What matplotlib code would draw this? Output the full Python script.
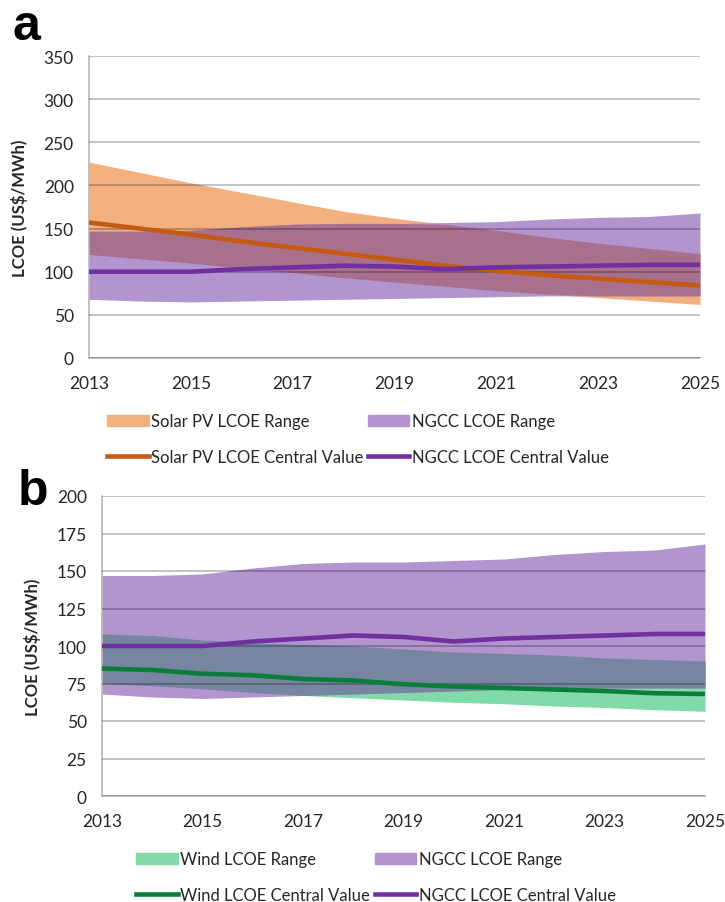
import matplotlib
matplotlib.use("Agg")
import matplotlib.pyplot as plt
import numpy as np
from matplotlib.patches import Patch
from matplotlib.lines import Line2D

plt.rcParams['font.family'] = ['Lato', 'DejaVu Sans']

# ---------------------- data
years = [2013, 2014, 2015, 2016, 2017, 2018, 2019, 2020, 2021, 2022, 2023, 2024, 2025]

solar_hi = [227, 215, 203, 192, 181, 170, 162, 155, 148, 140, 133, 127, 121]
solar_lo = [120, 115, 110, 104, 99, 93, 88, 83, 78, 74, 70, 66, 62]
solar_mid = [157, 150, 143, 135, 128, 121, 114, 107, 101, 96, 92, 88, 84]

ngcc_hi = [147, 147, 148, 152, 155, 156, 156, 157, 158, 161, 163, 164, 168]
ngcc_lo = [68, 66, 65, 66, 67, 68, 69, 70, 71, 72, 72, 72, 72]
ngcc_mid = [100, 100, 100, 103, 105, 107, 106, 103, 105, 106, 107, 108, 108]

wind_hi = [108, 107, 104, 102, 101, 100, 98, 96, 95, 94, 92, 91, 90]
wind_lo = [75, 73.5, 71.5, 69, 67, 65.5, 64, 62.5, 61.5, 60, 59, 57.5, 56.5]
wind_mid = [85, 84, 81.5, 80.5, 78, 77, 74.5, 73, 72, 71, 70, 68.5, 68]

# ---------------------- colours
c_solar_fill = '#F3B07F'
c_ngcc_fill = '#B294CE'
c_wind_fill = '#80DBA9'
c_solar_ngcc = '#A9708E'
c_wind_ngcc = '#7685A0'
c_solar = '#C55A11'
c_ngcc = '#7030A0'
c_wind = '#0A7D3B'
c_text = '#262626'
fs = 12.5


def style_axis(ax, ymax, ystep):
    ax.set_xlim(2013, 2025)
    ax.set_ylim(0, ymax)
    ax.set_xticks(range(2013, 2026, 2))
    ax.set_yticks(np.arange(0, ymax + 1, ystep))
    ax.grid(axis='y', color='k', alpha=0.3, lw=1.1)
    ax.grid(axis='x', visible=False)
    ax.set_axisbelow(False)
    for s in ['top', 'right']:
        ax.spines[s].set_visible(False)
    for s in ['left', 'bottom']:
        ax.spines[s].set_color('#B0B0B0')
        ax.spines[s].set_linewidth(1.1)
    ax.tick_params(length=0, labelsize=fs, colors=c_text)
    ax.tick_params(axis='x', pad=12)
    ax.tick_params(axis='y', pad=11)
    ax.set_ylabel(r'LCOE (US\$/MWh)', fontsize=12, fontweight='bold', color=c_text)


def range_pair(ax, lo1, hi1, c1, lo2, hi2, c2, c_both):
    ax.fill_between(years, lo1, hi1, color=c1, lw=0, zorder=1)
    ax.fill_between(years, lo2, hi2, color=c2, lw=0, zorder=1.1)
    lo = np.maximum(lo1, lo2)
    hi = np.minimum(hi1, hi2)
    ax.fill_between(years, lo, hi, where=hi > lo, interpolate=True,
                    color=c_both, lw=0, zorder=1.2)


fig = plt.figure(figsize=(7.25, 9.03), dpi=100)

# ---------------------- panel a
ax1 = fig.add_axes([89 / 725, 1 - 359 / 903, 611 / 725, 302 / 903])
range_pair(ax1, solar_lo, solar_hi, c_solar_fill, ngcc_lo, ngcc_hi, c_ngcc_fill, c_solar_ngcc)
ax1.plot(years, solar_mid, color=c_solar, lw=3.3, zorder=3, solid_capstyle='butt')
ax1.plot(years, ngcc_mid, color=c_ngcc, lw=3.3, zorder=3, solid_capstyle='butt')
style_axis(ax1, 350, 50)
ax1.yaxis.set_label_coords(-0.1, 0.5)

# ---------------------- panel b
ax2 = fig.add_axes([102 / 725, 1 - 797 / 903, 603 / 725, 300 / 903])
range_pair(ax2, wind_lo, wind_hi, c_wind_fill, ngcc_lo, ngcc_hi, c_ngcc_fill, c_wind_ngcc)
ax2.plot(years, ngcc_mid, color=c_ngcc, lw=3.3, zorder=3, solid_capstyle='butt')
ax2.plot(years, wind_mid, color=c_wind, lw=3.3, zorder=3, solid_capstyle='butt')
style_axis(ax2, 200, 25)
ax2.yaxis.set_label_coords(-0.101, 0.5)

# panel letters
fig.text(12 / 725, 1 - 40 / 903, 'a', fontsize=36, fontweight='bold',
         family='Liberation Sans', va='baseline', ha='left')
fig.text(18 / 725, 1 - 505 / 903, 'b', fontsize=36, fontweight='bold',
         family='Liberation Sans', va='baseline', ha='left')

# ---------------------- legends
leg_kw = dict(loc='center', ncol=2, frameon=False, fontsize=12,
              handlelength=2.5, handletextpad=0.15, columnspacing=0.25,
              labelspacing=1.15, labelcolor=c_text)

h1 = [Patch(color=c_solar_fill), Line2D([], [], color=c_solar, lw=3.3),
      Patch(color=c_ngcc_fill), Line2D([], [], color=c_ngcc, lw=3.3)]
l1 = ['Solar PV LCOE Range', 'Solar PV LCOE Central Value',
      'NGCC LCOE Range', 'NGCC LCOE Central Value']
fig.legend(h1, l1, bbox_to_anchor=(358 / 725, 1 - 440 / 903), **leg_kw)

h2 = [Patch(color=c_wind_fill), Line2D([], [], color=c_wind, lw=3.3),
      Patch(color=c_ngcc_fill), Line2D([], [], color=c_ngcc, lw=3.3)]
l2 = ['Wind LCOE Range', 'Wind LCOE Central Value',
      'NGCC LCOE Range', 'NGCC LCOE Central Value']
fig.legend(h2, l2, bbox_to_anchor=(376 / 725, 1 - 878 / 903), **leg_kw)

fig.savefig('out.png', dpi=100)
